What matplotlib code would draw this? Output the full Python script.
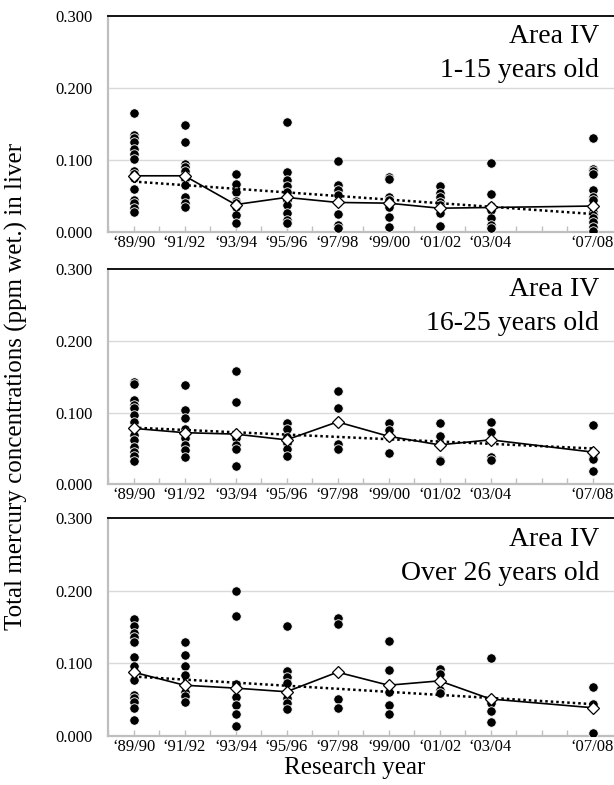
import numpy as np
import matplotlib.pyplot as plt

plt.rcParams['font.family'] = ['Liberation Serif', 'DejaVu Serif']

# research years (first year of each season) and tick labels
years = [1989, 1991, 1993, 1995, 1997, 1999, 2001, 2003, 2007]
year_labels = ['‘89/90', '‘91/92', '‘93/94', '‘95/96', '‘97/98',
               '‘99/00', '‘01/02', '‘03/04', '‘07/08']

# 1-15 years old : individual values, yearly mean, trend end points
young_pts = [
    [0.165, 0.135, 0.130, 0.125, 0.115, 0.108, 0.102, 0.085, 0.080, 0.075, 0.060, 0.045, 0.040, 0.033, 0.028],
    [0.148, 0.125, 0.095, 0.090, 0.085, 0.078, 0.073, 0.065, 0.048, 0.040, 0.035],
    [0.081, 0.066, 0.055, 0.043, 0.040, 0.035, 0.023, 0.013],
    [0.153, 0.083, 0.072, 0.064, 0.055, 0.045, 0.038, 0.027, 0.017, 0.012],
    [0.098, 0.065, 0.058, 0.052, 0.042, 0.025, 0.010, 0.005],
    [0.077, 0.073, 0.049, 0.044, 0.039, 0.035, 0.021, 0.007],
    [0.064, 0.054, 0.049, 0.042, 0.037, 0.033, 0.026, 0.008],
    [0.096, 0.053, 0.036, 0.030, 0.019, 0.009, 0.005],
    [0.130, 0.088, 0.084, 0.080, 0.058, 0.049, 0.044, 0.035, 0.028, 0.023, 0.019, 0.014, 0.007, 0.002],
]
young_mean = [0.078, 0.078, 0.038, 0.048, 0.041, 0.040, 0.033, 0.034, 0.036]
young_trend = [0.070, 0.025]

# 16-25 years old
mid_pts = [
    [0.143, 0.140, 0.117, 0.111, 0.106, 0.097, 0.087, 0.078, 0.069, 0.062, 0.052, 0.045, 0.039, 0.033],
    [0.138, 0.103, 0.092, 0.077, 0.071, 0.064, 0.055, 0.048, 0.038],
    [0.158, 0.115, 0.064, 0.055, 0.049, 0.025],
    [0.086, 0.077, 0.066, 0.058, 0.049, 0.039],
    [0.130, 0.106, 0.087, 0.056, 0.049],
    [0.085, 0.076, 0.066, 0.044],
    [0.086, 0.067, 0.055, 0.034, 0.032],
    [0.087, 0.073, 0.062, 0.038, 0.034],
    [0.083, 0.038, 0.035, 0.019],
]
mid_mean = [0.078, 0.072, 0.070, 0.062, 0.087, 0.067, 0.055, 0.062, 0.045]
mid_trend = [0.079, 0.050]

# Over 26 years old
old_pts = [
    [0.161, 0.151, 0.142, 0.136, 0.130, 0.109, 0.097, 0.077, 0.056, 0.052, 0.047, 0.038, 0.022],
    [0.129, 0.111, 0.096, 0.084, 0.070, 0.060, 0.055, 0.047],
    [0.200, 0.166, 0.072, 0.054, 0.043, 0.031, 0.014],
    [0.152, 0.090, 0.082, 0.073, 0.052, 0.045, 0.037],
    [0.162, 0.155, 0.051, 0.039],
    [0.131, 0.091, 0.060, 0.043, 0.030],
    [0.093, 0.086, 0.063, 0.059],
    [0.108, 0.045, 0.034, 0.020],
    [0.067, 0.044, 0.004],
]
old_mean = [0.088, 0.070, 0.066, 0.061, 0.088, 0.070, 0.076, 0.051, 0.039]
old_trend = [0.082, 0.044]

panels = [
    ('1-15 years old', young_pts, young_mean, young_trend),
    ('16-25 years old', mid_pts, mid_mean, mid_trend),
    ('Over 26 years old', old_pts, old_mean, old_trend),
]

fig = plt.figure(figsize=(6.14, 7.85), dpi=100)
# [left, bottom, width, height] in figure fractions
rects = [
    [108 / 614, 0.7045, 510 / 614, 0.2752],
    [108 / 614, 0.3830, 510 / 614, 0.2743],
    [108 / 614, 0.0624, 510 / 614, 0.2773],
]

for rect, (age, pts, mean, trend) in zip(rects, panels):
    ax = fig.add_axes(rect)
    for yr, vals in zip(years, pts):
        ax.plot([yr] * len(vals), vals, 'o', color='black', ms=6.8,
                mec='white', mew=0.6, zorder=3)
    ax.plot([years[0], years[-1]], trend, color='black', ls=(0, (1, 1.2)),
            lw=1.8, zorder=4)
    ax.plot(years, mean, color='black', lw=1.2, marker='D', ms=6,
            mfc='white', mec='black', mew=0.9, zorder=5)

    ax.set_xlim(1988, 2008)
    ax.set_ylim(0, 0.3)
    ax.set_yticks([0, 0.1, 0.2, 0.3])
    ax.set_yticklabels(['0.000', '0.100', '0.200', '0.300'], fontsize=12)
    ax.set_xticks(years)
    ax.set_xticklabels(year_labels, fontsize=12)
    ax.set_xticks(range(1988, 2009), minor=True)
    ax.tick_params(axis='y', length=0, pad=11)
    ax.tick_params(axis='x', which='both', direction='in', length=4,
                   color='#bfbfbf', width=1, pad=2)
    for g in [0.1, 0.2]:
        ax.axhline(g, color='#d9d9d9', lw=1, zorder=1)
    for s in ['left', 'bottom']:
        ax.spines[s].set_color('#bfbfbf')
        ax.spines[s].set_linewidth(1.6)
    ax.spines['right'].set_visible(False)
    ax.spines['top'].set_color('black')
    ax.spines['top'].set_linewidth(1.3)

    ax.text(2007.25, 0.262, 'Area IV', ha='right', va='baseline', fontsize=20)
    ax.text(2007.25, 0.215, age, ha='right', va='baseline', fontsize=20)

fig.text(0.027, 0.508, 'Total mercury concentrations (ppm wet.) in liver',
         rotation=90, ha='center', va='center', fontsize=18)
fig.text(0.577, 0.022, 'Research year', ha='center', va='center', fontsize=18)

fig.savefig('out.png', dpi=100)
